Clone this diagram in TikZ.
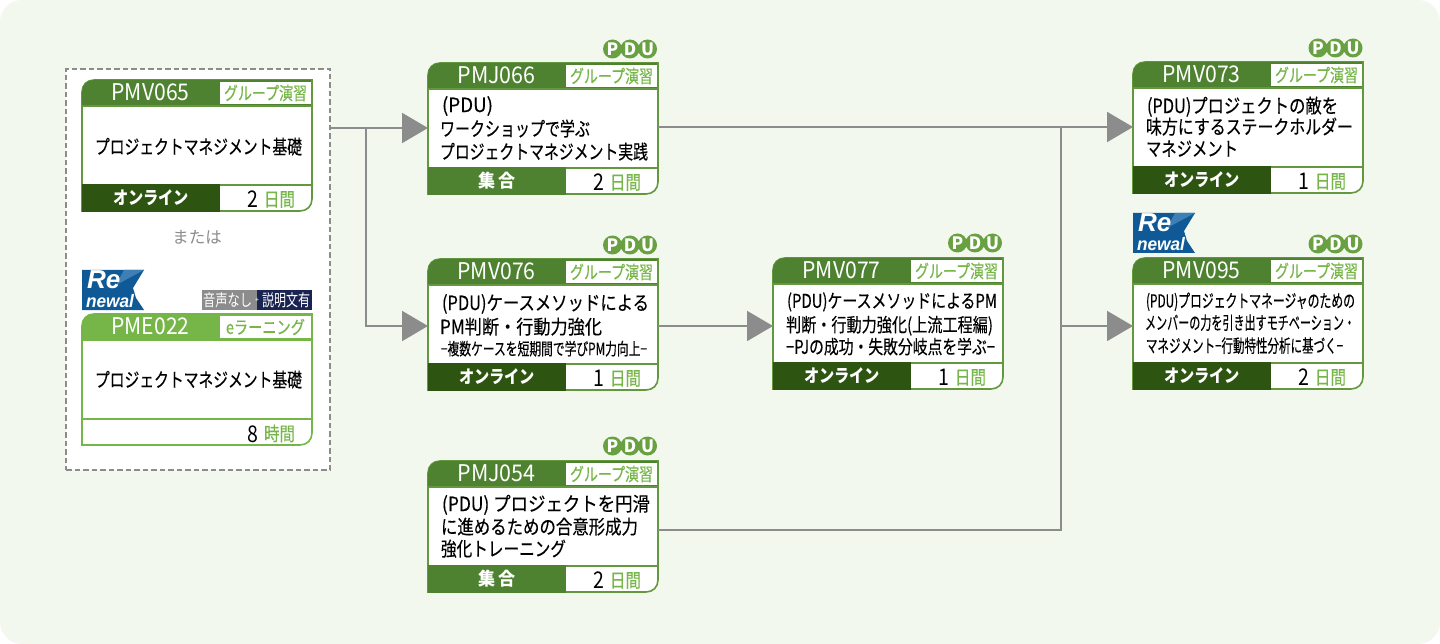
\documentclass[tikz,border=0pt]{standalone}
\usepackage{fontspec}
\usepackage{graphicx}
\usetikzlibrary{arrows.meta}
\setmainfont{Noto Sans CJK JP}
\newfontfamily\renewfont{Liberation Sans}
\newfontfamily\darkjp[FakeBold=0.3]{Noto Sans CJK JP}
\definecolor{pagebg}{HTML}{F2F8EE}
\definecolor{maingreen}{HTML}{4F8230}
\definecolor{framegreen}{HTML}{64983F}
\definecolor{lightgreen}{HTML}{76B648}
\definecolor{darkgreen}{HTML}{2D5410}
\definecolor{linegray}{HTML}{8C8C8C}
\definecolor{renewblue}{HTML}{0F5A96}
\definecolor{renewlight}{HTML}{3E7FB5}
\definecolor{navybox}{HTML}{1A2450}
\tikzset{
  x=1pt,y=-1pt,
  txt/.style={inner sep=0pt,outer sep=0pt},
  conn/.style={draw=linegray,line width=2pt},
  arrowed/.style={conn,-{Triangle[length=26pt,width=30pt,fill=linegray]}},
  holder/.style={minimum width=230pt,minimum height=131pt,inner sep=0pt,outer sep=0pt,anchor=north west},
}
% fit: text set at a size and squeezed to a given width
\newcommand{\fittext}[3]{\fontsize{#2}{#2}\selectfont\resizebox{#1pt}{\height}{#3}}
% \cardbase{name}{x}{y}{frame colour}{header colour}{code}{type}{type width}
\newcommand{\cardbase}[8]{%
  \node[holder] (#1) at (#2,#3) {};
  \begin{scope}[shift={(#2,#3)}]
    \path[fill=white,draw=#4,line width=1.6pt] (0,131) -- (0,12) .. controls (0,5) and (5,0) .. (12,0)
      -- (230,0) -- (230,119) .. controls (230,126) and (225,131) .. (218,131) -- cycle;
    \path[fill=#5] (0,26) -- (0,12) .. controls (0,5) and (5,0) .. (12,0) -- (230,0) -- (230,26) -- cycle;
    \path[fill=white] (138,2) rectangle (228.5,24);
    \draw[#4,line width=1.6pt] (0,26) -- (230,26) (230,0) -- (230,26);
    \node[txt,text=white] (#1-code) at (68.5,12.5) {\fittext{78}{23}{#6}};
    \node[txt,text=lightgreen] (#1-type) at (183.5,13) {\fittext{#8}{18}{\darkjp #7}};
  \end{scope}}
% \cardfoot{name}{x}{y}{frame colour}{fill}{mode}{mode width}{number}{unit}
\newcommand{\cardfoot}[9]{%
  \begin{scope}[shift={(#2,#3)}]
    \draw[#4,line width=1.6pt] (0,105) -- (230,105);
    \path[fill=#5] (0,104.2) rectangle (138,131.8);
    \node[txt,text=white] (#1-mode) at (69,118) {\fittext{#7}{18}{\bfseries #6}};
    \node[txt,text=black] (#1-num) at (171,119) {\fontsize{23}{23}\selectfont\scalebox{.85}[1]{#8}};
    \node[txt,text=lightgreen] (#1-unit) at (197.5,119.5) {\fittext{31}{19}{\darkjp #9}};
  \end{scope}}
% \pdu{name}{x of left circle centre}{y}
\newcommand{\pdu}[3]{%
  \begin{scope}[shift={(#2,#3)}]
    \fill[framegreen!70!lightgreen] (0,0) circle (9.5pt) (17.5,0) circle (9.5pt) (35,0) circle (9.5pt);
    \node[txt,text=white] (#1-p) at (0,0) {\fontsize{17}{17}\selectfont\bfseries P};
    \node[txt,text=white] (#1-d) at (17.5,0) {\fontsize{17}{17}\selectfont\bfseries D};
    \node[txt,text=white] (#1-u) at (35,0) {\fontsize{17}{17}\selectfont\bfseries U};
  \end{scope}}
% \renewbadge{name}{x}{y}
\newcommand{\renewbadge}[3]{%
  \begin{scope}[shift={(#2,#3)}]
    \fill[renewblue] (0,0) -- (62,0) -- (51,18) -- (54,28) -- (62,40) -- (0,40) -- cycle;
    \fill[renewlight] (34,15) -- (62,0) -- (42,0) -- cycle;
    \node[txt,anchor=base west,text=white] (#1-re) at (5,19) {\renewfont\fontsize{26}{26}\selectfont\bfseries\itshape Re};
    \node[txt,anchor=base west,text=white] (#1-newal) at (4,37.5) {\fontsize{18}{18}\selectfont\renewfont\bfseries\itshape\resizebox{48pt}{\height}{newal}};
  \end{scope}}
% \bodyline{name}{x}{y centre}{width}{size}{text}
\newcommand{\bodyline}[6]{%
  \node[txt,anchor=base west,text=black,yshift={-0.36pt*#5}] (#1) at (#2,#3) {\fittext{#4}{#5}{\darkjp #6}};}
\begin{document}
\begin{tikzpicture}
\useasboundingbox (0,0) rectangle (1440,644);
\path[fill=white] (0,0) rectangle (1440,644);
\path[fill=pagebg,rounded corners=22pt] (0,0) rectangle (1440,644);

% dashed group
\node[draw=linegray,dash pattern=on 5.5pt off 3pt,line width=2pt,fill=white,minimum width=264pt,minimum height=401pt,inner sep=0pt,outer sep=0pt,anchor=north west] (group) at (66,69) {};
\node[txt,text=linegray] (or) at (197,237) {\fontsize{16.5}{16.5}\selectfont または};

% connectors
\coordinate (src) at (group.east |- 0,128);
\coordinate (jA) at (366,128);
\coordinate (jB) at (1061,127);
\coordinate (jC) at (1061,326);

% cards
\cardbase{pmv065}{82}{80}{framegreen}{maingreen}{PMV065}{グループ演習}{83}
\cardfoot{pmv065}{82}{80}{framegreen}{darkgreen}{オンライン}{76}{2}{日間}
\bodyline{pmv065-l1}{95}{147}{207}{19.5}{プロジェクトマネジメント基礎}

\renewbadge{rb1}{82}{270}
\path[fill=linegray] (202,290) rectangle (257,310);
\path[fill=navybox] (257,290) rectangle (312,310);
\node[txt,text=white] (snd1) at (227.5,300) {\fittext{49}{16.5}{音声なし}};
\node[txt,text=white] (snd2) at (286,300) {\fittext{48}{16.5}{説明文有}};
\node[txt,text=white] (snd3) at (257,300.5) {\fontsize{7}{7}\selectfont +};

\cardbase{pme022}{82}{314}{lightgreen}{lightgreen}{PME022}{eラーニング}{79}
\draw[lightgreen,line width=1.6pt] (82,419) -- (312,419);
\node[txt,text=black] (pme022-num) at (253,434) {\fontsize{23}{23}\selectfont\scalebox{.85}[1]{8}};
\node[txt,text=lightgreen] (pme022-unit) at (279.5,433.5) {\fittext{31}{19}{\darkjp 時間}};
\bodyline{pme022-l1}{95}{380}{207}{19.5}{プロジェクトマネジメント基礎}

\pdu{b066}{612.5}{49}
\cardbase{pmj066}{428}{63}{framegreen}{maingreen}{PMJ066}{グループ演習}{83}
\cardfoot{pmj066}{428}{63}{framegreen}{maingreen}{集 合}{38}{2}{日間}
\bodyline{pmj066-l1}{442}{105}{51}{19.5}{(PDU)}
\bodyline{pmj066-l2}{440}{129}{150}{19.5}{ワークショップで学ぶ}
\bodyline{pmj066-l3}{440}{152}{208}{19.5}{プロジェクトマネジメント実践}

\pdu{b076}{612.5}{245}
\cardbase{pmv076}{428}{259}{framegreen}{maingreen}{PMV076}{グループ演習}{83}
\cardfoot{pmv076}{428}{259}{framegreen}{darkgreen}{オンライン}{76}{1}{日間}
\bodyline{pmv076-l1}{442}{303}{207}{19.5}{(PDU)ケースメソッドによる}
\bodyline{pmv076-l2}{440}{327}{162}{19.5}{PM判断・行動力強化}
\bodyline{pmv076-l3}{441}{349}{206}{17}{−複数ケースを短期間で学びPM力向上−}

\pdu{b077}{957.5}{243}
\cardbase{pmv077}{773}{258}{framegreen}{maingreen}{PMV077}{グループ演習}{83}
\cardfoot{pmv077}{773}{258}{framegreen}{darkgreen}{オンライン}{76}{1}{日間}
\bodyline{pmv077-l1}{787}{301}{210}{19}{(PDU)ケースメソッドによるPM}
\bodyline{pmv077-l2}{786}{325}{207}{19}{判断・行動力強化(上流工程編)}
\bodyline{pmv077-l3}{786}{347}{209}{19}{−PJの成功・失敗分岐点を学ぶ−}

\pdu{b054}{612.5}{446}
\cardbase{pmj054}{428}{461}{framegreen}{maingreen}{PMJ054}{グループ演習}{83}
\cardfoot{pmj054}{428}{461}{framegreen}{maingreen}{集 合}{38}{2}{日間}
\bodyline{pmj054-l1}{442}{504}{208}{19.5}{(PDU) プロジェクトを円滑}
\bodyline{pmj054-l2}{441}{527}{197}{19.5}{に進めるための合意形成力}
\bodyline{pmj054-l3}{441}{549}{125}{19.5}{強化トレーニング}

\pdu{b073}{1318}{48}
\cardbase{pmv073}{1133}{62}{framegreen}{maingreen}{PMV073}{グループ演習}{83}
\cardfoot{pmv073}{1133}{62}{framegreen}{darkgreen}{オンライン}{76}{1}{日間}
\bodyline{pmv073-l1}{1147}{106}{191}{19.5}{(PDU)プロジェクトの敵を}
\bodyline{pmv073-l2}{1146}{127}{207}{19.5}{味方にするステークホルダー}
\bodyline{pmv073-l3}{1146}{149}{92}{19.5}{マネジメント}

\renewbadge{rb2}{1133}{213}
\pdu{b095}{1318}{244}
\cardbase{pmv095}{1133}{258}{framegreen}{maingreen}{PMV095}{グループ演習}{83}
\cardfoot{pmv095}{1133}{258}{framegreen}{darkgreen}{オンライン}{76}{2}{日間}
\bodyline{pmv095-l1}{1146}{301}{209}{18}{(PDU)プロジェクトマネージャのための}
\bodyline{pmv095-l2}{1145}{323}{210}{18}{メンバーの力を引き出すモチベーション・}
\bodyline{pmv095-l3}{1146}{346}{197}{18}{マネジメント−行動特性分析に基づく−}

% connectors
\draw[arrowed] (src) -- (pmj066.west |- src);
\draw[arrowed] (jA) |- ([yshift=-1.5pt]pmv076.west);
\draw[arrowed] (pmj066.east |- jB) -- (pmv073.west |- jB);
\draw[arrowed] ([yshift=-1.5pt]pmv076.east) -- ([yshift=-2.5pt]pmv077.west);
\draw[conn] (pmj054.east |- 0,530) -| (jB);
\draw[arrowed] (jC) -- ([yshift=-2.5pt]pmv095.west);
\end{tikzpicture}
\end{document}
